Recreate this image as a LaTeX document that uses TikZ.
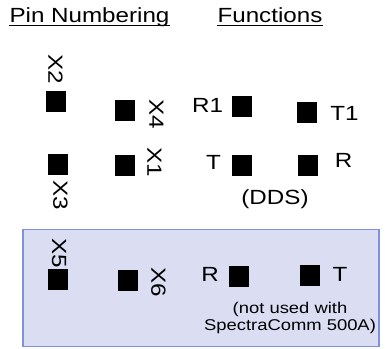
\documentclass[tikz,border=0pt]{standalone}
\usepackage{fontspec}
\setmainfont{Liberation Sans}[FakeStretch=1.18]
\begin{document}
\begin{tikzpicture}[x=1pt,y=-1pt,
  pin/.style={fill=black,draw=none,minimum width=20pt,minimum height=21pt,inner sep=0pt},
  lbl/.style={inner sep=0pt,font=\fontsize{20.5}{24}\selectfont},
  rlbl/.style={lbl,rotate=-90},
  head/.style={inner sep=0pt,anchor=base,font=\fontsize{20.5}{24}\selectfont},
  note/.style={inner sep=0pt,align=center,font=\fontsize{15.6}{17.5}\selectfont}]
\useasboundingbox (0,0) rectangle (385,348);
\definecolor{boxfill}{RGB}{219,222,243}
\definecolor{boxline}{RGB}{128,144,220}
\draw[fill=boxfill,draw=boxline,line width=1.6pt] (22.8,229.5) rectangle (379,346.5);
% headings
\node[head] (h1) at (89.5,22) {Pin Numbering};
\node[head] (h2) at (270,22) {Functions};
\draw[line width=1.3pt] ([yshift=-3.6pt]h1.base west) -- ([yshift=-3.6pt]h1.base east);
\draw[line width=1.3pt] ([yshift=-3.6pt]h2.base west) -- ([yshift=-3.6pt]h2.base east);
% pin squares
\node[pin] (p2) at (56,101.5) {};
\node[pin] (p4) at (125,110.5) {};
\node[pin] (p3) at (57.5,164.5) {};
\node[pin] (p1) at (124.5,165) {};
\node[pin] (p5) at (58,279.5) {};
\node[pin] (p6) at (127.5,280) {};
% pin labels
\node[rlbl] (l2) at (55.5,69) {X2};
\node[rlbl] (l4) at (156.5,114.5) {X4};
\node[rlbl] (l1) at (154.5,162.5) {X1};
\node[rlbl] (l3) at (60.5,195) {X3};
\node[rlbl] (l5) at (59,253.5) {X5};
\node[rlbl] (l6) at (158.5,282) {X6};
% function squares
\node[pin] (fr1) at (242,106.5) {};
\node[pin] (ft1) at (307,112.5) {};
\node[pin] (ft) at (241.5,165.5) {};
\node[pin] (fr) at (308,165.5) {};
\node[pin] (br) at (238.5,276.5) {};
\node[pin] (bt) at (309.5,275) {};
% function labels
\node[lbl] (tr1) at (207.5,105) {R1};
\node[lbl] (tt1) at (344.5,113) {T1};
\node[lbl] (tt) at (213.5,162.5) {T};
\node[lbl] (tr) at (343.5,160.5) {R};
\node[head] (dds) at (275,204) {(DDS)};
\node[lbl] (btr) at (210,274) {R};
\node[lbl] (btt) at (340,274) {T};
\node[note] (nt) at (290,318) {(not used with\\SpectraComm 500A)};
\end{tikzpicture}
\end{document}
